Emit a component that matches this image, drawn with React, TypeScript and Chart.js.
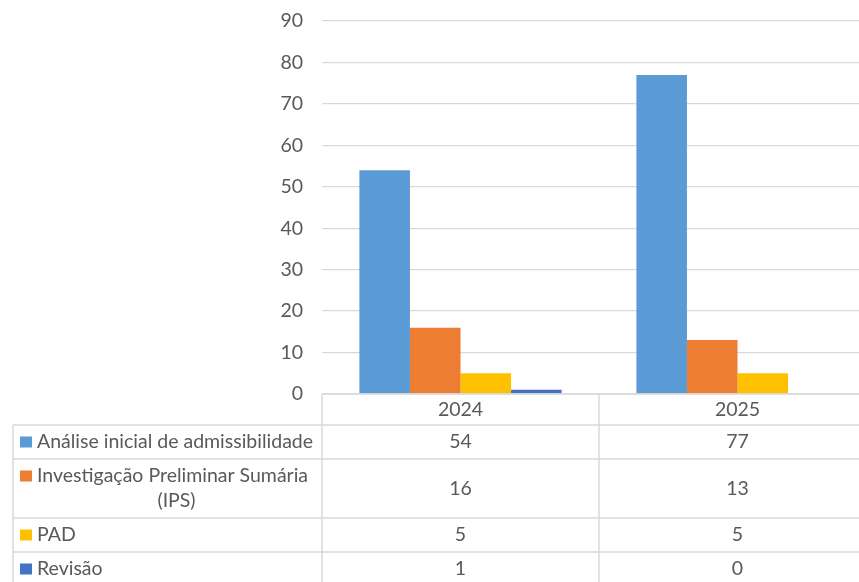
import React, { useEffect, useRef } from "react";
import { Chart, registerables } from "chart.js";

Chart.register(...registerables);

const categories = ["2024", "2025"];
const seriesNames = [
  "Análise inicial de admissibilidade",
  "Investigação Preliminar Sumária (IPS)",
  "PAD",
  "Revisão",
];
const analiseValues = [54, 77];
const ipsValues = [16, 13];
const padValues = [5, 5];
const revisaoValues = [1, 0];
const yTickMin = 0;
const yTickMax = 90;
const yTickStep = 10;

const seriesValues = [analiseValues, ipsValues, padValues, revisaoValues];
const colors = ["#5B9BD5", "#ED7D31", "#FFC000", "#4472C4"];
// wrapped label lines for the data table
const labelLines = [
  ["Análise inicial de admissibilidade"],
  ["Investigação Preliminar Sumária", "(IPS)"],
  ["PAD"],
  ["Revisão"],
];

const FONT_SIZE = 19.5;
const FONT = `${FONT_SIZE}px Lato`;
const TEXT = "#595959";
const GRID = "#D9D9D9";

const tablePlugin = {
  id: "dataTable",
  afterDraw(chart: any) {
    const ctx = chart.ctx as CanvasRenderingContext2D;
    const x = chart.scales.x;
    const area = chart.chartArea;
    const top = area.bottom;
    const rowH = [31, 34, 59, 34, 34];
    const ys: number[] = [top];
    rowH.forEach((h) => ys.push(ys[ys.length - 1] + h));
    const tableLeft = 13;
    const n = categories.length;
    const colW = (area.right - area.left) / n;

    ctx.save();
    ctx.strokeStyle = GRID;
    ctx.lineWidth = 1.5;
    ctx.beginPath();
    ctx.moveTo(area.left, ys[0]);
    ctx.lineTo(area.right, ys[0]);
    for (let i = 1; i < ys.length; i++) {
      ctx.moveTo(tableLeft, ys[i]);
      ctx.lineTo(area.right, ys[i]);
    }
    ctx.moveTo(tableLeft, ys[1]);
    ctx.lineTo(tableLeft, ys[ys.length - 1]);
    for (let c = 0; c <= n; c++) {
      const px = area.left + c * colW;
      ctx.moveTo(px, ys[0]);
      ctx.lineTo(px, ys[ys.length - 1]);
    }
    ctx.stroke();

    ctx.fillStyle = TEXT;
    ctx.font = FONT;
    ctx.textBaseline = "middle";
    ctx.textAlign = "center";
    categories.forEach((cat, i) => {
      const cx = x.getPixelForValue(i);
      ctx.fillText(cat, cx, (ys[0] + ys[1]) / 2);
    });

    seriesNames.forEach((_, r) => {
      const rTop = ys[r + 1];
      const rBot = ys[r + 2];
      const mid = (rTop + rBot) / 2;
      const lines = labelLines[r];
      const lineH = 25;
      const firstY = mid - ((lines.length - 1) * lineH) / 2;
      ctx.fillStyle = colors[r];
      ctx.fillRect(20, firstY - 5.5, 12, 11);
      ctx.fillStyle = TEXT;
      lines.forEach((ln, k) => {
        if (k === 0) {
          ctx.textAlign = "left";
          ctx.fillText(ln, 37, firstY);
        } else {
          ctx.textAlign = "center";
          ctx.fillText(ln, (37 + area.left - 6) / 2, firstY + k * lineH);
        }
      });
      ctx.textAlign = "center";
      seriesValues[r].forEach((v, i) => {
        ctx.fillText(String(v), x.getPixelForValue(i), mid);
      });
    });
    ctx.restore();
  },
};

export default function App() {
  const ref = useRef<HTMLCanvasElement | null>(null);
  useEffect(() => {
    document.body.style.margin = "0";
    const chart = new Chart(ref.current!, {
      type: "bar",
      data: {
        labels: categories,
        datasets: seriesNames.map((name, i) => ({
          label: name,
          data: seriesValues[i],
          backgroundColor: colors[i],
          borderWidth: 0,
          barPercentage: 1,
          categoryPercentage: 0.73,
        })),
      },
      options: {
        animation: false,
        responsive: true,
        maintainAspectRatio: false,
        layout: { padding: { top: 21, bottom: 188, left: 0, right: 0 } },
        plugins: { legend: { display: false }, tooltip: { enabled: false } },
        scales: {
          x: { display: false },
          y: {
            min: yTickMin,
            max: yTickMax,
            ticks: {
              stepSize: yTickStep,
              padding: 9,
              color: TEXT,
              font: { family: "Lato", size: FONT_SIZE },
            },
            grid: {
              color: GRID,
              lineWidth: 1.3,
              drawTicks: true,
              tickLength: 10,
              tickColor: "rgba(0,0,0,0)",
            },
            border: { display: false },
            afterFit(scale: any) {
              scale.width = 322;
            },
          },
        },
      },
      plugins: [tablePlugin],
    });
    return () => chart.destroy();
  }, []);
  return (
    <div style={{ position: "fixed", left: 0, top: 0, width: 859, height: 582, overflow: "hidden" }}>
      <div style={{ position: "relative", width: 876, height: 582 }}>
        <canvas ref={ref} />
      </div>
    </div>
  );
}
